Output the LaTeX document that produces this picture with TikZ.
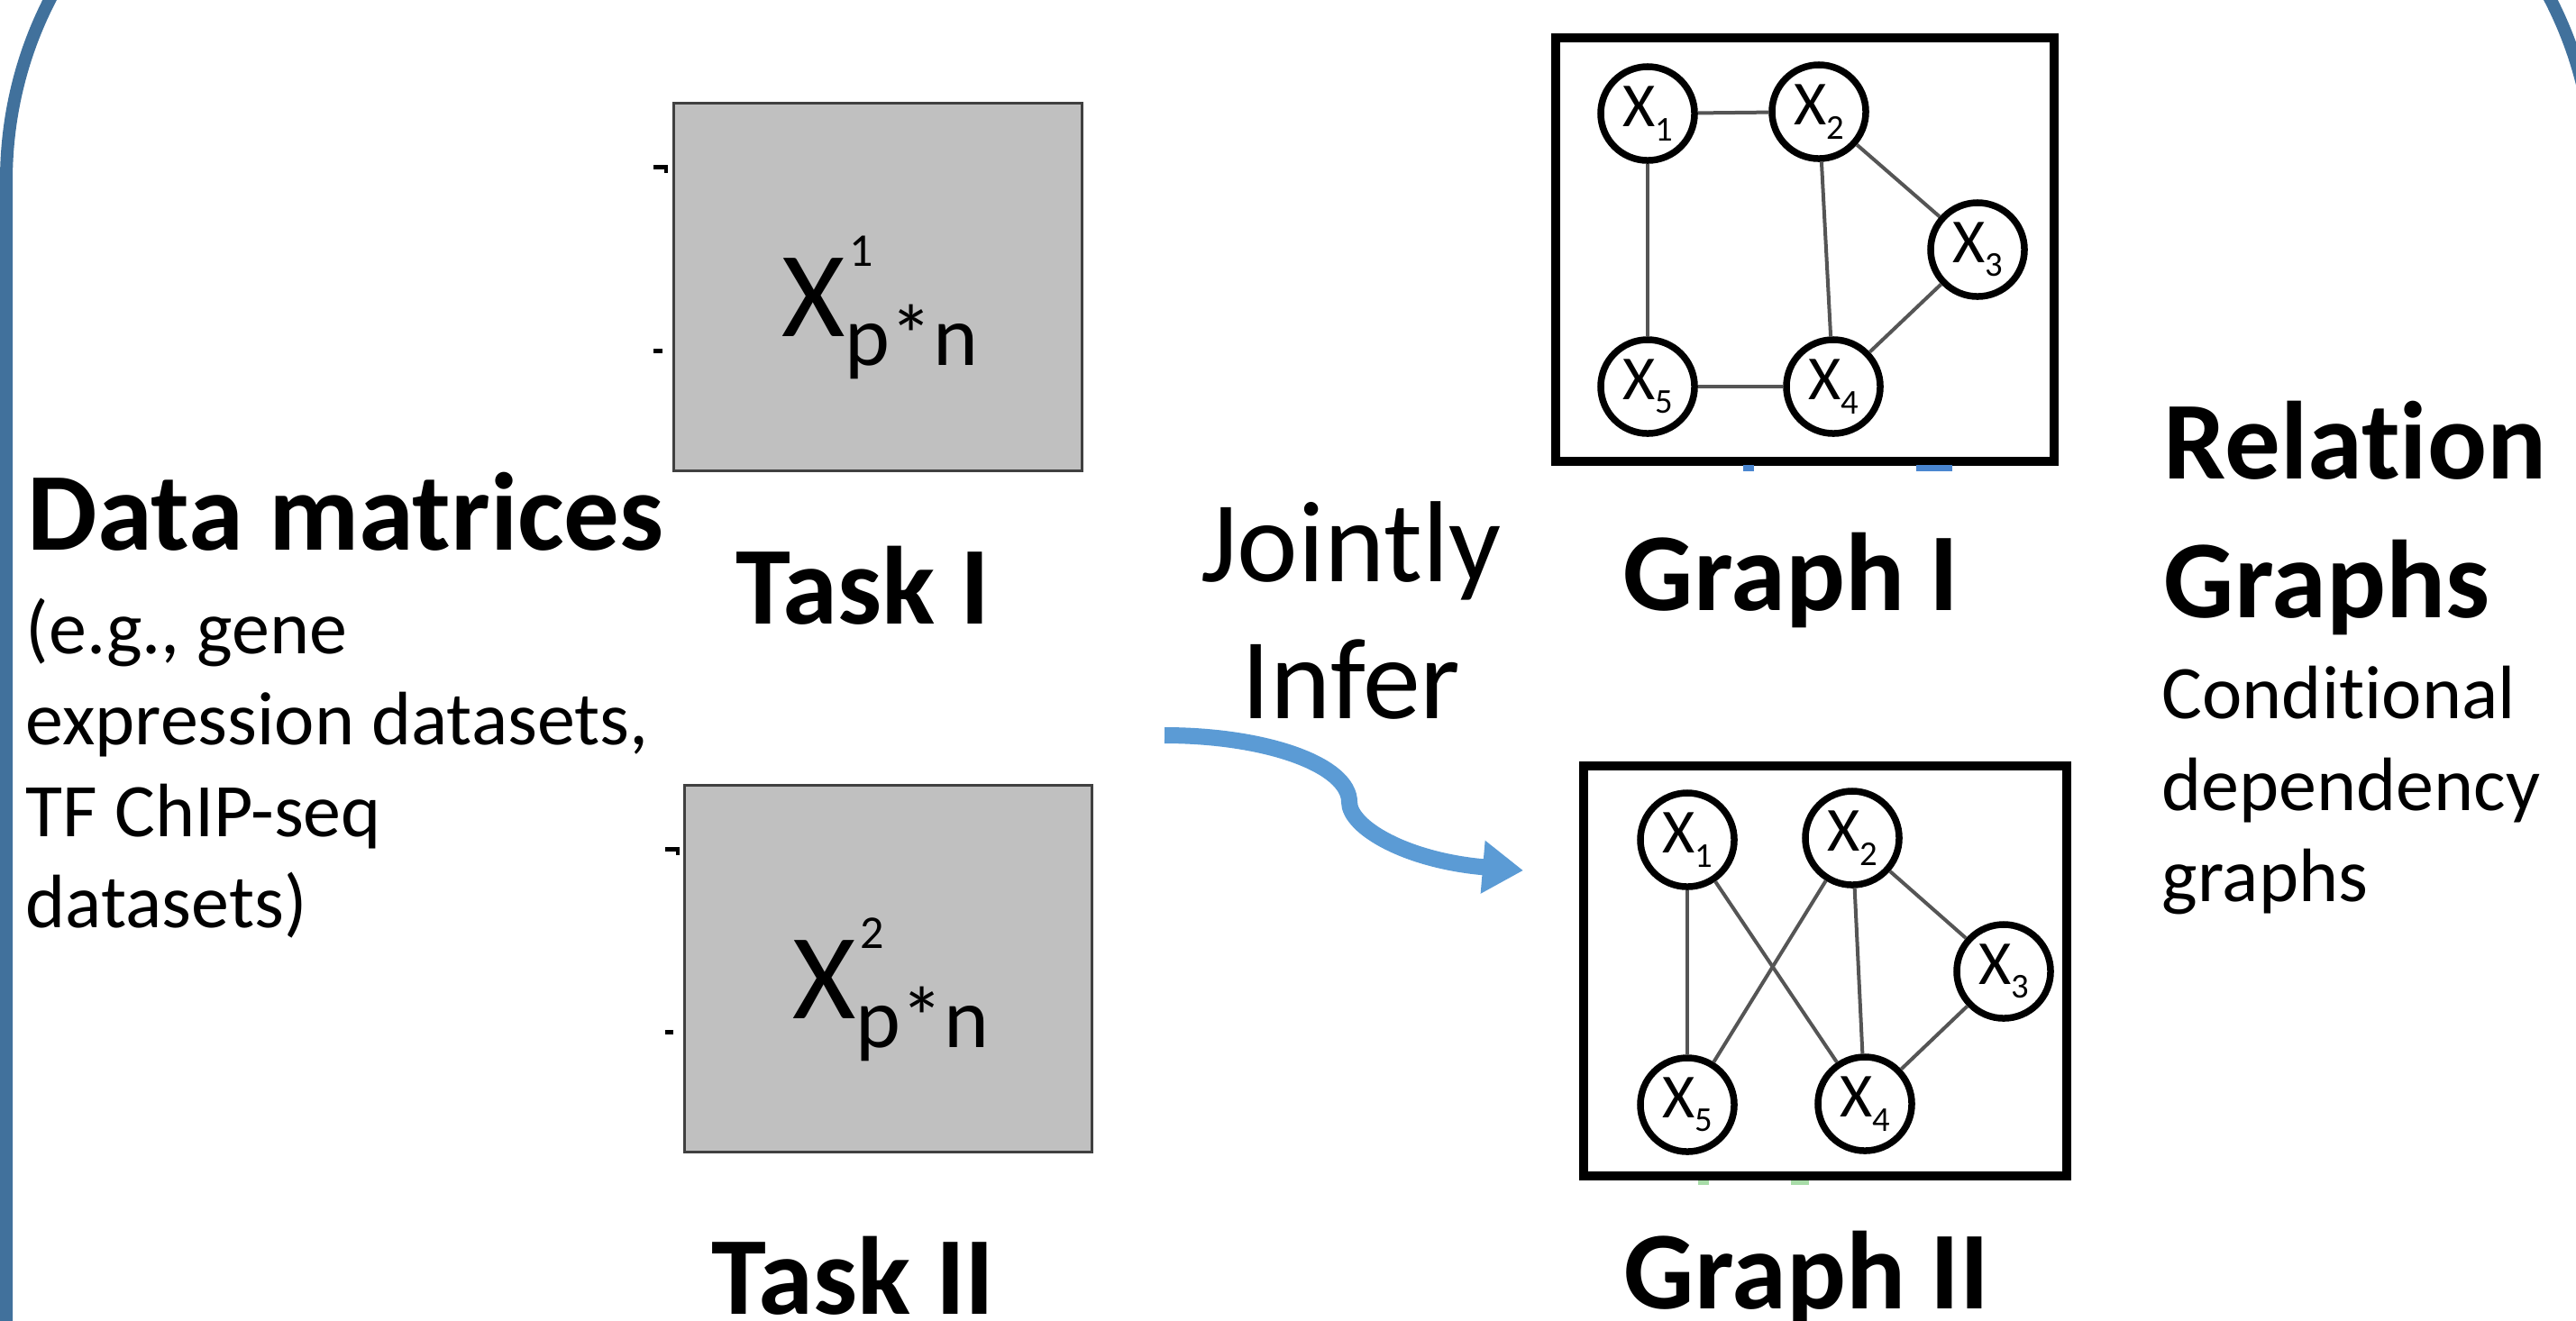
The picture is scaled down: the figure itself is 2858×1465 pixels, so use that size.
\documentclass[tikz,border=0pt]{standalone}
\usepackage{fontspec}
\setmainfont[Ligatures=NoCommon]{Carlito}
\usetikzlibrary{arrows.meta}
\definecolor{framecol}{HTML}{41719C}
\definecolor{arrowcol}{HTML}{5B9BD5}
\definecolor{matfill}{HTML}{C0C0C0}
\definecolor{matline}{HTML}{404040}
\definecolor{edgecol}{HTML}{555555}
\definecolor{artblue}{HTML}{4A86D0}
\definecolor{artgreen}{HTML}{A8DCA8}
\newcommand{\fsz}[1]{\fontsize{#1}{#1}\selectfont}
\newcommand{\xsub}[1]{{\fsz{19.8}X\raisebox{-0.155cm}{\fsz{11}#1}}}
\newcommand{\matlab}[1]{\fsz{38.5}X\makebox[0pt][l]{\hspace{0.05cm}\raisebox{0.77cm}{\fsz{14.8}#1}}\raisebox{-0.32cm}{\fsz{27}p*n}}
\begin{document}
\begin{tikzpicture}[x=0.01cm, y=-0.01cm,
  mat/.style={draw=matline, line width=0.03cm, fill=matfill, minimum width=4.52cm, minimum height=4.07cm, inner sep=0, outer sep=0},
  gbox/.style={draw=black, line width=0.1cm, inner sep=0, outer sep=0},
  gnode/.style={circle, draw=black, line width=0.075cm, minimum size=1.04cm, inner sep=0, fill=white},
  gedge/.style={draw=edgecol, line width=0.04cm},
  bigbold/.style={font=\fontsize{35}{43.8}\selectfont\bfseries, inner sep=0, anchor=base west},
  bodytxt/.style={font=\fontsize{23.9}{28.9}\selectfont, inner sep=0, anchor=base west},
  marktick/.style={fill=black, draw=none}
]
\useasboundingbox (0,0) rectangle (2858,1465);
\clip (0,0) rectangle (2858,1465);

% outer blue frame
\draw[framecol, line width=0.14cm, rounded corners=4.4cm] (7,-240) rectangle (2878,2200);

% data matrices
\node[mat] (m1) at (974,318.5) {};
\node[mat] (m2) at (985.5,1075) {};
\node[anchor=base west, inner sep=0] (l1) at (867,373) {\matlab{1}};
\node[anchor=base west, inner sep=0] (l2) at (879,1130) {\matlab{2}};
\fill[marktick] (725,183) rectangle (741,188);
\fill[marktick] (737,183) rectangle (741,192);
\fill[marktick] (725,387) rectangle (735,392);
\fill[marktick] (738,940) rectangle (754,945);
\fill[marktick] (750,940) rectangle (754,949);
\fill[marktick] (738,1143) rectangle (747,1148);

% left texts
\node[bigbold] (dm) at (30,610) {Data matrices};
\node[bodytxt] (eg) at (28,725) {\begin{tabular}[t]{@{}l@{}}(e.g., gene\\expression datasets,\\TF ChIP-seq\\datasets)\end{tabular}};

\node[bigbold] (t1) at (816,692) {Task I};
\node[bigbold] (t2) at (789,1458) {Task II};

% jointly infer
\node[anchor=base, inner sep=0, font=\fontsize{36.4}{43.5}\selectfont] (ji) at (1499,645) {\begin{tabular}[t]{@{}c@{}}Jointly\\Infer\end{tabular}};

% graph I
\node[gbox, minimum width=5.53cm, minimum height=4.70cm] (g1) at (2002.5,277) {};
\node[gnode] (a1) at (1828,126) {\xsub{1}};
\node[gnode] (a2) at (2018,124) {\xsub{2}};
\node[gnode] (a3) at (2194,277) {\xsub{3}};
\node[gnode] (a4) at (2034,429) {\xsub{4}};
\node[gnode] (a5) at (1828,429) {\xsub{5}};
\draw[gedge] (a1) -- (a2);
\draw[gedge] (a1) -- (a5);
\draw[gedge] (a2) -- (a4);
\draw[gedge] (a2) -- (a3);
\draw[gedge] (a3) -- (a4);
\draw[gedge] (a5) -- (a4);
\fill[artblue] (1934,516) rectangle (1946,523);
\fill[artblue] (2126,516) rectangle (2166,523);

% graph II
\node[gbox, minimum width=5.36cm, minimum height=4.55cm] (g2) at (2025,1077.5) {};
\node[gnode] (b1) at (1872,932) {\xsub{1}};
\node[gnode] (b2) at (2055,930) {\xsub{2}};
\node[gnode] (b3) at (2223,1078) {\xsub{3}};
\node[gnode] (b4) at (2069,1225) {\xsub{4}};
\node[gnode] (b5) at (1872,1226) {\xsub{5}};
\draw[gedge] (b1) -- (b5);
\draw[gedge] (b1) -- (b4);
\draw[gedge] (b2) -- (b5);
\draw[gedge] (b2) -- (b4);
\draw[gedge] (b2) -- (b3);
\draw[gedge] (b3) -- (b4);
\fill[artgreen] (1884,1310) rectangle (1896,1315);
\fill[artgreen] (1987,1310) rectangle (2007,1315);

\node[bigbold] (gl1) at (1800,677) {Graph I};
\node[bigbold] (gl2) at (1801,1452) {Graph II};

% right texts
\node[bigbold] (rg) at (2400,531) {\begin{tabular}[t]{@{}l@{}}Relat\kern0pt ion\\Graphs\end{tabular}};
\node[bodytxt] (cd) at (2398,797.5) {\begin{tabular}[t]{@{}l@{}}Condit\kern0pt ional\\dependency\\graphs\end{tabular}};

% arrow
\coordinate (atail) at (1292,816);
\coordinate (akink) at (1497,890);
\coordinate (ahead) at (1690,966);
\draw[arrowcol, line width=0.18cm, -{Triangle[length=0.45cm, width=0.56cm]}]
  (atail) .. controls (1405,816) and (1497,849) .. (akink)
  .. controls (1497,918) and (1560,955) .. (ahead);
\end{tikzpicture}
\end{document}
